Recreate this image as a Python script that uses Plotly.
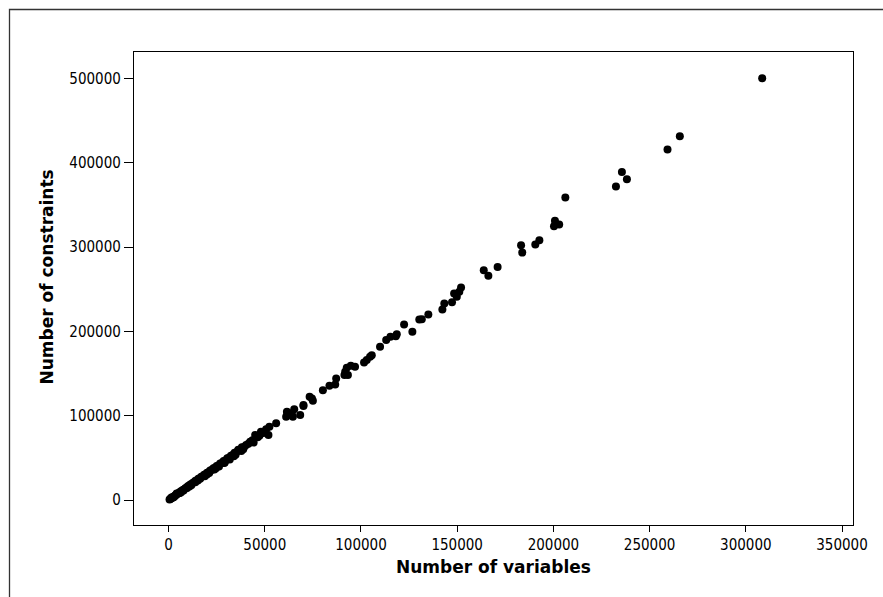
import plotly.graph_objects as go

# Number of variables (x) and number of constraints (y)
variables = [
    500, 900, 1200, 1600, 2000, 2500, 3000, 3400, 3900, 4500, 5000, 5600, 6200, 6800,
    7400, 8000, 8700, 9300, 10000, 10600, 11300, 12000, 12700, 13400, 14000, 14800,
    15500, 16200, 17000, 17800, 18500, 19300, 20000, 20800, 21600, 22400, 23300, 24100,
    25000, 25900, 26800, 27700, 28600, 29600, 30500, 31400, 32400, 33300, 34300, 35200,
    36200, 37200, 38100, 39200, 40300, 41500, 42400, 43600, 45000, 46300, 48000, 50700,
    51900, 52400, 55900, 61100, 61500, 61800, 64100, 64600, 65300, 68400, 70100, 70100,
    73300, 74500, 75000, 80200, 83600, 86600, 87100, 91400, 91800, 92600, 93200, 94700,
    96900, 101600, 103000, 104700, 105600, 109900, 113100, 115300, 118100, 118600,
    122400, 126700, 130300, 131600, 135000, 142300, 143300, 147300, 148400, 149800,
    151100, 152000, 163800, 166200, 171000, 183200, 183800, 190600, 192700, 200300,
    200800, 203000, 206200, 232500, 235600, 238200, 259300, 265700, 308500,
    # extra points in the dense band near the origin
    1500, 2800, 4200, 5900, 7800, 9600, 11800, 13900, 16400, 18800, 21100, 23800,
    26200, 28900, 31800, 34800, 37800, 2300, 6500, 10800, 15200, 19900, 24600, 29200,
    33900, 38800, 44200, 47200, 49300,
]
constraints = [
    700, 1300, 1800, 2400, 3100, 3900, 4600, 5500, 6100, 7200, 7900, 8700, 10100, 10700,
    12000, 12600, 14100, 14700, 16200, 16800, 18300, 19000, 20600, 21300, 22800, 23500,
    25200, 25800, 27600, 28100, 30000, 30500, 32400, 32900, 35000, 35500, 37600, 38200,
    40300, 40800, 43300, 43900, 46300, 46800, 49500, 50200, 52600, 53500, 56000, 56800,
    59500, 59200, 62500, 63000, 65200, 66800, 69100, 71000, 77000, 74500, 80900, 83800,
    77000, 86800, 90900, 98700, 104700, 103900, 100700, 98700, 107500, 100700, 111400, 112600,
    122400, 120500, 117600, 130300, 135400, 137100, 144200, 148100, 152000, 156700, 148100, 159100,
    157900, 163100, 165900, 169800, 171800, 181600, 189600, 193500, 194300, 196700,
    208200, 199400, 214100, 214400, 220000, 225900, 233000, 234600, 244900, 240900,
    246800, 252000, 272500, 265800, 276400, 302100, 293400, 302900, 308000, 324600,
    331000, 326600, 358600, 371700, 389000, 380300, 415500, 431300, 500000,
    3000, 3700, 7600, 8300, 11200, 14400, 17600, 21200, 25100, 28300, 32200, 36100,
    39800, 43900, 48100, 53600, 58100, 2900, 9300, 16000, 23100, 30300, 37600, 44400,
    52000, 60100, 68200, 76200, 79500,
]

x_ticks = [0, 50000, 100000, 150000, 200000, 250000, 300000, 350000]
y_ticks = [0, 100000, 200000, 300000, 400000, 500000]

W, H = 883, 597
ml, mr, mt, mb = 134, 30, 52, 72
pw, ph = W - ml - mr, H - mt - mb

def px(xp):
    return (xp - ml) / pw

def py(yp):
    return (H - mb - yp) / ph

tick_font = dict(family="DejaVu Sans Condensed, DejaVu Sans, sans-serif", size=15, color="#000")
title_font = dict(family="DejaVu Sans, sans-serif", size=17, color="#000")

fig = go.Figure()
fig.add_trace(go.Scatter(
    x=variables, y=constraints, mode="markers",
    marker=dict(color="#000", size=8, line=dict(width=0)),
    showlegend=False, cliponaxis=False,
))

axis_common = dict(
    showline=True, linecolor="#000", linewidth=1.3, mirror=True,
    showgrid=False, zeroline=False, ticks="outside", tickcolor="#000", tickwidth=1,
    tickfont=tick_font,
)
fig.update_xaxes(range=[-17970, 355700], tickvals=x_ticks,
                 ticktext=[str(v) for v in x_ticks], ticklen=6, **axis_common)
fig.update_yaxes(range=[-29600, 531200], tickvals=y_ticks,
                 ticktext=[str(v) for v in y_ticks], ticklen=9, **axis_common)

fig.add_annotation(text="<b>Number of variables</b>", xref="paper", yref="paper",
                   x=px(493.5), y=py(567), xanchor="center", yanchor="middle",
                   showarrow=False, font=title_font)
fig.add_annotation(text="<b>Number of constraints</b>", xref="paper", yref="paper",
                   x=px(46.5), y=py(277), xanchor="center", yanchor="middle",
                   textangle=-90, showarrow=False, font=title_font)

# outer frame
fig.add_shape(type="rect", xref="paper", yref="paper",
              x0=px(9.5), x1=px(W + 5), y0=py(H + 5), y1=py(9.5),
              line=dict(color="#333", width=1.3), fillcolor="rgba(0,0,0,0)", layer="below")

fig.update_layout(
    width=W, height=H, autosize=False,
    margin=dict(l=ml, r=mr, t=mt, b=mb),
    paper_bgcolor="#fff", plot_bgcolor="#fff",
)
fig.write_html("out.html")
